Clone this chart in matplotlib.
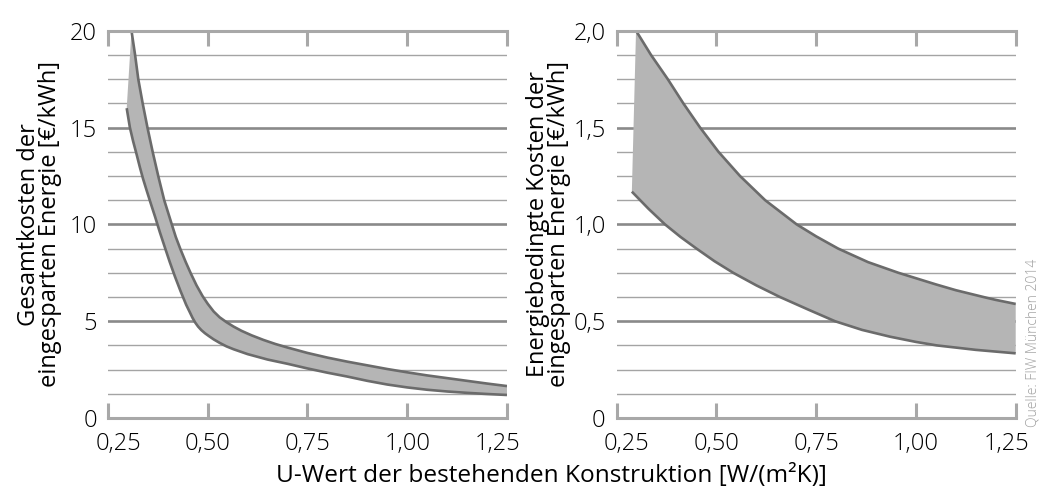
import matplotlib.pyplot as plt
from matplotlib.transforms import ScaledTranslation

plt.rcParams['font.family'] = ['Open Sans', 'DejaVu Sans']

# x axis (U-Wert)
u_ticks = [0.25, 0.50, 0.75, 1.00, 1.25]
u_labels = ['0,25', '0,50', '0,75', '1,00', '1,25']

# left panel: Gesamtkosten [€/kWh]
ges_ticks = [0, 5, 10, 15, 20]
ges_labels = ['0', '5', '10', '15', '20']
ges_minor = [1.25, 2.5, 3.75, 6.25, 7.5, 8.75, 11.25, 12.5, 13.75, 16.25, 17.5, 18.75]
ges_hi_x = [0.309, 0.318, 0.326, 0.337, 0.349, 0.362, 0.376, 0.391, 0.410, 0.420,
            0.432, 0.445, 0.458, 0.472, 0.487, 0.500, 0.515, 0.530, 0.547, 0.565,
            0.585, 0.610, 0.640, 0.670, 0.700, 0.750, 0.800, 0.850, 0.900, 0.950,
            1.000, 1.050, 1.100, 1.150, 1.200, 1.250]
ges_hi_y = [20.0, 18.75, 17.5, 16.25, 15.0, 13.75, 12.5, 11.25, 10.0, 9.35,
            8.7, 8.05, 7.45, 6.85, 6.3, 5.9, 5.5, 5.2, 4.95, 4.72,
            4.5, 4.27, 4.03, 3.82, 3.64, 3.36, 3.12, 2.91, 2.72, 2.53,
            2.36, 2.2, 2.06, 1.92, 1.78, 1.65]
ges_lo_x = [0.297, 0.305, 0.313, 0.322, 0.330, 0.338, 0.347, 0.357, 0.368, 0.380,
            0.392, 0.405, 0.418, 0.432, 0.446, 0.455, 0.462, 0.469, 0.476, 0.484,
            0.493, 0.503, 0.515, 0.530, 0.547, 0.565, 0.600, 0.650, 0.700, 0.750,
            0.800, 0.850, 0.900, 0.950, 1.000, 1.050, 1.100, 1.150, 1.200, 1.250]
ges_lo_y = [16.0, 15.0, 14.3, 13.6, 12.95, 12.35, 11.75, 11.1, 10.4, 9.6,
            8.85, 8.05, 7.3, 6.55, 5.85, 5.47, 5.17, 4.92, 4.72, 4.54,
            4.38, 4.23, 4.06, 3.88, 3.7, 3.55, 3.3, 3.02, 2.8, 2.56,
            2.34, 2.14, 1.92, 1.73, 1.58, 1.46, 1.37, 1.3, 1.24, 1.19]

# right panel: energiebedingte Kosten [€/kWh]
en_ticks = [0, 0.5, 1.0, 1.5, 2.0]
en_labels = ['0', '0,5', '1,0', '1,5', '2,0']
en_minor = [0.125, 0.25, 0.375, 0.625, 0.75, 0.875, 1.125, 1.25, 1.375, 1.625, 1.75, 1.875]
en_hi_x = [0.2985, 0.336, 0.378, 0.417, 0.459, 0.505, 0.559, 0.622, 0.701, 0.750,
           0.805, 0.880, 0.956, 1.050, 1.100, 1.169, 1.200, 1.250]
en_hi_y = [2.0, 1.875, 1.75, 1.625, 1.5, 1.375, 1.25, 1.125, 1.0, 0.938,
           0.875, 0.805, 0.75, 0.69, 0.66, 0.625, 0.61, 0.589]
en_lo_x = [0.288, 0.330, 0.371, 0.410, 0.450, 0.495, 0.542, 0.600, 0.659, 0.730,
           0.797, 0.865, 0.935, 1.000, 1.052, 1.150, 1.250]
en_lo_y = [1.169, 1.08, 1.0, 0.935, 0.875, 0.81, 0.75, 0.685, 0.625, 0.56,
           0.5, 0.455, 0.42, 0.393, 0.375, 0.352, 0.334]

fill_c = '#b5b5b5'
line_c = '#6b6b6b'
axis_c = '#a8a8a8'

fig = plt.figure(figsize=(10.41, 4.90), dpi=100)
ax1 = fig.add_axes([0.1037, 0.1469, 0.3833, 0.7904])
ax2 = fig.add_axes([0.5924, 0.1469, 0.3833, 0.7904])

panels = [
    (ax1, ges_hi_x, ges_hi_y, ges_lo_x, ges_lo_y, ges_ticks, ges_labels, ges_minor, 20,
     'Gesamtkosten der\neingesparten Energie [€/kWh]'),
    (ax2, en_hi_x, en_hi_y, en_lo_x, en_lo_y, en_ticks, en_labels, en_minor, 2.0,
     'Energiebedingte Kosten der\neingesparten Energie [€/kWh]'),
]

for ax, hx, hy, lx, ly, yt, yl, ym, ytop, ylab in panels:
    ax.fill(hx + lx[::-1], hy + ly[::-1], color=fill_c, lw=0, zorder=1)
    ax.plot(hx, hy, color=line_c, lw=1.9, zorder=2, solid_capstyle='butt', solid_joinstyle='round')
    ax.plot(lx, ly, color=line_c, lw=1.9, zorder=2, solid_capstyle='butt', solid_joinstyle='round')

    ax.set_xlim(0.25, 1.25)
    ax.set_ylim(0, ytop)
    ax.set_axisbelow(True)

    ax.set_yticks(yt, yl)
    ax.set_yticks(ym, minor=True)
    ax.grid(axis='y', which='major', color='#8a8a8a', lw=1.9)
    ax.grid(axis='y', which='minor', color='#a4a4a4', lw=1.0)
    ax.tick_params(axis='y', which='both', length=0, pad=8, labelsize=17)

    ax.set_xticks(u_ticks, u_labels)
    ax.tick_params(axis='x', which='major', direction='in', length=11, width=2.2,
                   color=axis_c, top=True, bottom=True, labelsize=17, pad=10)

    for lab in ax.get_xticklabels() + ax.get_yticklabels():
        lab.set_fontweight('light')
    xl = ax.get_xticklabels()
    xl[0].set_transform(xl[0].get_transform() + ScaledTranslation(0.10, 0, fig.dpi_scale_trans))
    xl[-1].set_transform(xl[-1].get_transform() + ScaledTranslation(-0.09, 0, fig.dpi_scale_trans))

    for side in ['left', 'right']:
        ax.spines[side].set_visible(False)
    for side in ['top', 'bottom']:
        ax.spines[side].set_color(axis_c)
        ax.spines[side].set_linewidth(2.2)

    ax.set_ylabel(ylab, fontsize=17, linespacing=0.85)
    ax.yaxis.set_label_coords(-0.115, 0.5)

fig.text(0.5298, 0.0163, 'U-Wert der bestehenden Konstruktion [W/(m²K)]',
         fontsize=17.6, ha='center', va='baseline')
fig.text(0.9925, 0.30, 'Quelle: FIW München 2014', rotation=90, fontsize=10,
         color='#a0a0a0', ha='center', va='center', fontweight='light')

fig.savefig('out.png', dpi=100)
